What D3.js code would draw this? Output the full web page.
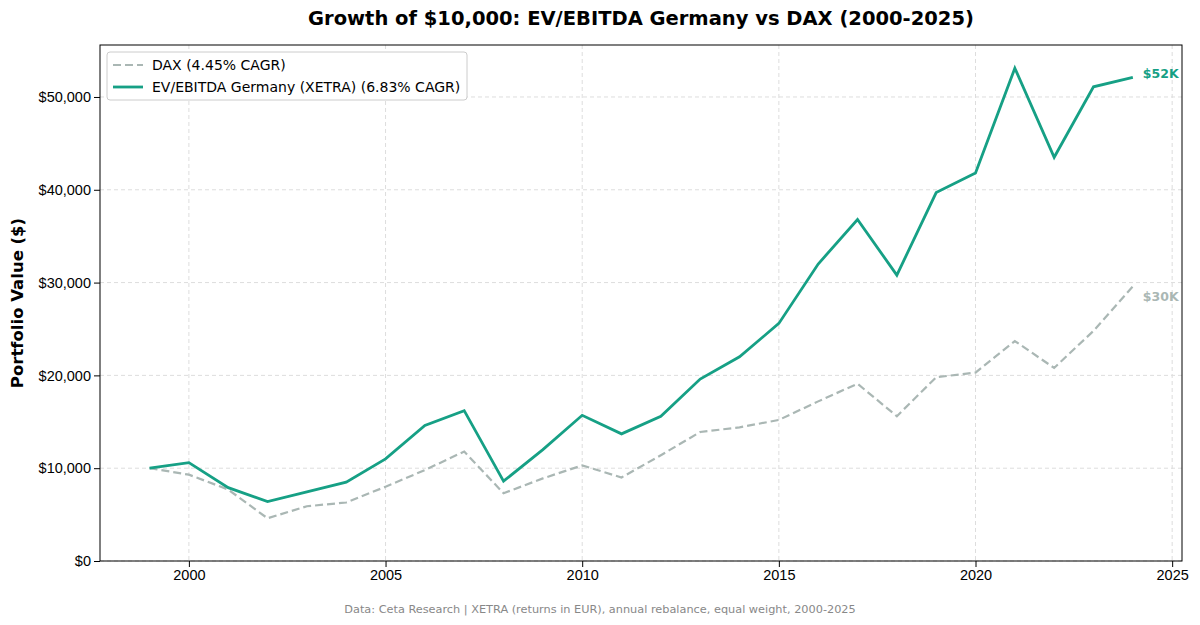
<!DOCTYPE html>
<html><head><meta charset="utf-8">
<script src="https://cdn.jsdelivr.net/npm/d3@7"></script>
<style>body{margin:0;background:#fff;font-family:"DejaVu Sans",sans-serif}</style>
</head><body><svg id="chart" width="1200" height="625"></svg>
<script>
const years = d3.range(1999, 2025);
const evEbitda = [10000,10600,7900,6400,7450,8500,11000,14600,16200,8600,12000,15700,13700,15600,19600,22000,25600,32000,36800,30800,39700,41800,53100,43500,51100,52100];
const dax = [10000,9300,7700,4600,5900,6300,8000,9800,11800,7300,8900,10300,9000,11400,13900,14400,15200,17200,19100,15600,19800,20300,23700,20800,24800,29600];
const xTicks = [2000,2005,2010,2015,2020,2025];
const yTicks = [0,10000,20000,30000,40000,50000];

const svg = d3.select("#chart");
const m = {l:100, r:1182, t:45, b:561};
const x = d3.scaleLinear().domain([1997.74, 2025.25]).range([m.l, m.r]);
const y = d3.scaleLinear().domain([0, 55600]).range([m.b, m.t]);

// grid
svg.append("g").selectAll("line").data(xTicks).enter().append("line")
    .attr("x1", d => x(d)).attr("x2", d => x(d)).attr("y1", m.t).attr("y2", m.b)
    .attr("stroke", "#ddd").attr("stroke-dasharray", "4,3");
svg.append("g").selectAll("line").data(yTicks).enter().append("line")
    .attr("x1", m.l).attr("x2", m.r).attr("y1", d => y(d)).attr("y2", d => y(d))
    .attr("stroke", "#ddd").attr("stroke-dasharray", "4,3");

const xa = svg.append("g").attr("transform", `translate(0,${m.b})`)
    .call(d3.axisBottom(x).tickValues(xTicks).tickFormat(d3.format("d")).tickSizeOuter(0));
const ya = svg.append("g").attr("transform", `translate(${m.l},0)`)
    .call(d3.axisLeft(y).tickValues(yTicks).tickFormat(d => "$" + d3.format(",")(d)).tickSizeOuter(0));
[xa, ya].forEach(a => { a.selectAll("text").attr("font-size", 14.5).attr("fill", "#000"); a.select(".domain").remove(); });
svg.append("rect").attr("x", m.l).attr("y", m.t).attr("width", m.r - m.l).attr("height", m.b - m.t)
    .attr("fill", "none").attr("stroke", "#000");

const line = d3.line().x((d, i) => x(years[i])).y(d => y(d));
svg.append("path").datum(dax).attr("d", line).attr("fill", "none")
    .attr("stroke", "#aab7b4").attr("stroke-width", 2.2).attr("stroke-dasharray", "8,4");
svg.append("path").datum(evEbitda).attr("d", line).attr("fill", "none")
    .attr("stroke", "#16a085").attr("stroke-width", 2.8);

svg.append("text").attr("x", x(2024) + 10).attr("y", y(evEbitda[25]) + 1)
    .attr("font-size", 12.5).attr("font-weight", "bold").attr("fill", "#16a085").text("$52K");
svg.append("text").attr("x", x(2024) + 10).attr("y", y(dax[25]) + 15)
    .attr("font-size", 12.5).attr("font-weight", "bold").attr("fill", "#aab7b4").text("$30K");

// legend
const lg = svg.append("g");
lg.append("rect").attr("x", 107).attr("y", 52).attr("width", 360).attr("height", 48).attr("rx", 3)
    .attr("fill", "#fff").attr("stroke", "#ccc");
lg.append("line").attr("x1", 113).attr("x2", 143).attr("y1", 65).attr("y2", 65)
    .attr("stroke", "#aab7b4").attr("stroke-width", 2.2).attr("stroke-dasharray", "8,4");
lg.append("line").attr("x1", 113).attr("x2", 143).attr("y1", 87).attr("y2", 87)
    .attr("stroke", "#16a085").attr("stroke-width", 2.8);
lg.append("text").attr("x", 152).attr("y", 70).attr("font-size", 14).text("DAX (4.45% CAGR)");
lg.append("text").attr("x", 152).attr("y", 92).attr("font-size", 14).text("EV/EBITDA Germany (XETRA) (6.83% CAGR)");

svg.append("text").attr("x", 641).attr("y", 25).attr("text-anchor", "middle")
    .attr("font-size", 19.5).attr("font-weight", "bold").text("Growth of $10,000: EV/EBITDA Germany vs DAX (2000-2025)");
svg.append("text").attr("transform", `translate(23,${(m.t + m.b) / 2}) rotate(-90)`).attr("text-anchor", "middle")
    .attr("font-size", 16.5).attr("font-weight", "bold").text("Portfolio Value ($)");
svg.append("text").attr("x", 600).attr("y", 613).attr("text-anchor", "middle")
    .attr("font-size", 11.3).attr("fill", "#888").text("Data: Ceta Research | XETRA (returns in EUR), annual rebalance, equal weight, 2000-2025");
</script></body></html>
